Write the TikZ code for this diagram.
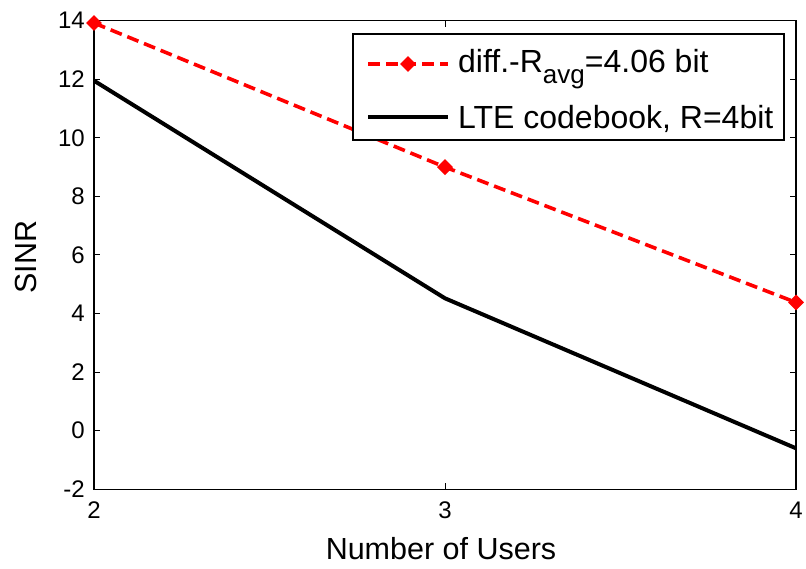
\documentclass[tikz,border=0pt]{standalone}
\usepackage{fontspec}
\setmainfont{Liberation Sans}
\usetikzlibrary{calc,shapes.geometric}

\tikzset{
  ticklabel/.style={font=\fontsize{24}{28}\selectfont, inner sep=0pt},
  axislabel/.style={font=\fontsize{30.5}{36}\selectfont, inner sep=0pt},
  legendtext/.style={font=\fontsize{32}{38}\selectfont, inner sep=0pt, anchor=base west},
  diffline/.style={red, line width=3.6pt, dash pattern=on 12pt off 6pt},
  lteline/.style={black, line width=4pt},
  diffmark/.style={diamond, fill=red, inner sep=0pt, minimum size=16pt},
}
\newcommand{\lowsub}[1]{\raisebox{-11pt}{\fontsize{26}{30}\selectfont #1}}

\begin{document}
\begin{tikzpicture}[x=351pt,y=29.29pt]
\useasboundingbox (0pt,0pt) rectangle (806pt,569pt);

\begin{scope}[shift={(-608pt,138.28pt)}]
% Frame and ticks
\draw[line width=1.2pt] (2,-2) rectangle (4,14);
\foreach \y in {-2,0,...,14} {
  \draw[line width=1pt] (2,\y) -- ++(6pt,0);
  \draw[line width=1pt] (4,\y) -- ++(-6pt,0);
  \node[ticklabel,anchor=east] (yl\y) at ([xshift=-9pt]2,\y) {\y};
}
\foreach \x in {2,3,4} {
  \draw[line width=1pt] (\x,-2) -- ++(0,6pt);
  \draw[line width=1pt] (\x,14) -- ++(0,-6pt);
  \node[ticklabel,anchor=north] (xl\x) at ([yshift=-12pt]\x,-2) {\x};
}

% LTE codebook
\coordinate (l2) at (2,11.95);
\coordinate (l3) at (3,4.52);
\coordinate (l4) at (4,-0.6);
\draw[lteline] (l2) -- (l3) -- (l4);

% diff.-R_avg
\coordinate (d2) at (2,13.92);
\coordinate (d3) at (3,9.0);
\coordinate (d4) at (4,4.38);
\draw[diffline] (d2) -- (d3) -- (d4);
\foreach \p in {2,3,4} \node[diffmark] (m\p) at (d\p) {};
\end{scope}

% Axis labels
\node[axislabel,rotate=90] (ylab) at (26pt,312pt) {SINR};
\node[axislabel] (xlab) at (441pt,20pt) {Number of Users};

% Legend
\draw[line width=1.2pt,fill=white] (353pt,429pt) rectangle (784pt,535pt);
\coordinate (ka) at (368pt,505pt);
\coordinate (kb) at (448pt,505pt);
\draw[diffline] (ka) -- (kb);
\node[diffmark] (km) at ($(ka)!0.5!(kb)$) {};
\node[legendtext] (ta) at (458pt,496pt) {diff.-R\lowsub{avg}=4.06 bit};
\coordinate (kc) at (368pt,452pt);
\coordinate (kd) at (448pt,452pt);
\draw[lteline] (kc) -- (kd);
\node[legendtext] (tb) at (458pt,440pt) {LTE codebook, R=4bit};
\end{tikzpicture}
\end{document}
